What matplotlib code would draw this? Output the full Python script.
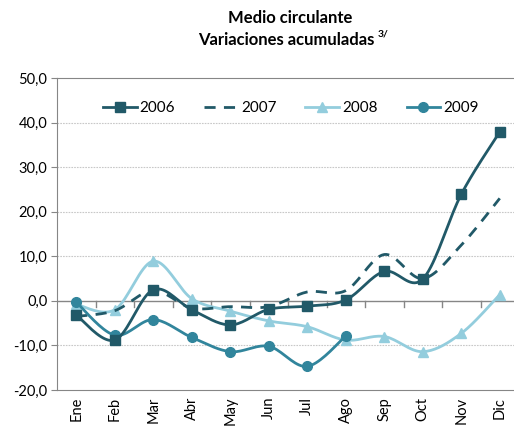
import numpy as np
import matplotlib
matplotlib.use("Agg")
import matplotlib.pyplot as plt
from matplotlib.lines import Line2D

plt.rcParams['font.family'] = ['Lato', 'DejaVu Sans']

months = ["Ene", "Feb", "Mar", "Abr", "May", "Jun", "Jul", "Ago", "Sep", "Oct", "Nov", "Dic"]
v2006 = [-3.2, -8.8, 2.5, -2.0, -5.4, -1.9, -1.2, 0.2, 6.6, 4.9, 23.9, 37.9]
v2007 = [-3.5, -2.2, 2.3, -1.6, -1.3, -1.3, 2.0, 2.3, 10.4, 5.0, 12.5, 23.0]
v2008 = [-0.8, -2.0, 8.9, 0.5, -2.3, -4.5, -5.8, -8.8, -8.0, -11.4, -7.3, 1.4]
v2009 = [-0.3, -7.7, -4.2, -8.2, -11.4, -10.2, -14.7, -7.9]

c2006 = "#215968"
c2007 = "#215968"
c2008 = "#93CDDD"
c2009 = "#31859C"


def smooth(y, n=20):
    """Bezier smoothing similar to spreadsheet 'smoothed line'."""
    y = np.asarray(y, float)
    x = np.arange(len(y), dtype=float)
    xs, ys = [], []
    for i in range(len(y) - 1):
        p0 = np.array([x[max(i - 1, 0)], y[max(i - 1, 0)]])
        p1 = np.array([x[i], y[i]])
        p2 = np.array([x[i + 1], y[i + 1]])
        p3 = np.array([x[min(i + 2, len(y) - 1)], y[min(i + 2, len(y) - 1)]])
        c1 = p1 + (p2 - p0) / 6.0
        c2 = p2 - (p3 - p1) / 6.0
        t = np.linspace(0, 1, n)[:, None]
        pts = (1 - t) ** 3 * p1 + 3 * (1 - t) ** 2 * t * c1 + 3 * (1 - t) * t ** 2 * c2 + t ** 3 * p2
        xs.extend(pts[:, 0])
        ys.extend(pts[:, 1])
    return np.array(xs), np.array(ys)


fig = plt.figure(figsize=(5.14, 4.30), dpi=100)
ax = fig.add_axes([57 / 514, 40 / 430, 462 / 514, 312 / 430])

sx, sy = smooth(v2008)
ax.plot(sx, sy, color=c2008, lw=2, zorder=2)
ax.plot(range(len(v2008)), v2008, ls="none", marker="^", ms=7, color=c2008, zorder=2)

sx, sy = smooth(v2007)
ax.plot(sx, sy, color=c2007, lw=2, ls=(0, (4, 3)), zorder=3)

sx, sy = smooth(v2009)
ax.plot(sx, sy, color=c2009, lw=2, zorder=4)
ax.plot(range(len(v2009)), v2009, ls="none", marker="o", ms=7, color=c2009, zorder=4)

sx, sy = smooth(v2006)
ax.plot(sx, sy, color=c2006, lw=2, zorder=5)
ax.plot(range(len(v2006)), v2006, ls="none", marker="s", ms=7, color=c2006, zorder=5)

ax.set_xlim(-0.5, 11.5)
ax.set_ylim(-20, 50)
ax.set_yticks(np.arange(-20, 51, 10))
ax.set_yticklabels([f"{v:.1f}".replace(".", ",") for v in np.arange(-20, 51, 10)], fontsize=10.5)
for v in [40, 30, 20, 10, -10]:
    ax.axhline(v, color="#c8c8c8", lw=0.8, ls=(0, (1.5, 1)), zorder=0)
ax.axhline(0, color="#868686", lw=1, zorder=1)

# category ticks on the zero line
for b in np.arange(0.5, 11.5, 1):
    ax.plot([b, b], [0, -1.3], color="#868686", lw=1, zorder=1, clip_on=False)

ax.set_xticks(range(12))
ax.set_xticklabels(months, rotation=90, fontsize=10.5)
ax.tick_params(axis="x", length=0, pad=5)
ax.tick_params(axis="y", length=4, color="#868686", pad=3)
for s in ["left", "top", "bottom"]:
    ax.spines[s].set_color("#868686")
ax.spines["right"].set_visible(False)

handles = [
    Line2D([], [], color=c2006, lw=2, marker="s", ms=7),
    Line2D([], [], color=c2007, lw=2, ls=(0, (4, 3))),
    Line2D([], [], color=c2008, lw=2, marker="^", ms=7),
    Line2D([], [], color=c2009, lw=2, marker="o", ms=7),
]
ax.legend(handles, ["2006", "2007", "2008", "2009"], ncol=4, loc="upper left",
          bbox_to_anchor=(0.07, 0.97), frameon=False, fontsize=11,
          handlelength=2.2, handletextpad=0.2, columnspacing=1.9)

fig.text(0.564, 0.957, "Medio circulante", ha="center", va="center", fontsize=12, fontweight="bold")
fig.text(0.556, 0.907, "Variaciones acumuladas", ha="center", va="center",
         fontsize=12, fontweight="bold")
fig.text(0.734, 0.92, "3/", ha="left", va="center", fontsize=7.5, fontweight="bold")

fig.savefig("out.png", dpi=100)
